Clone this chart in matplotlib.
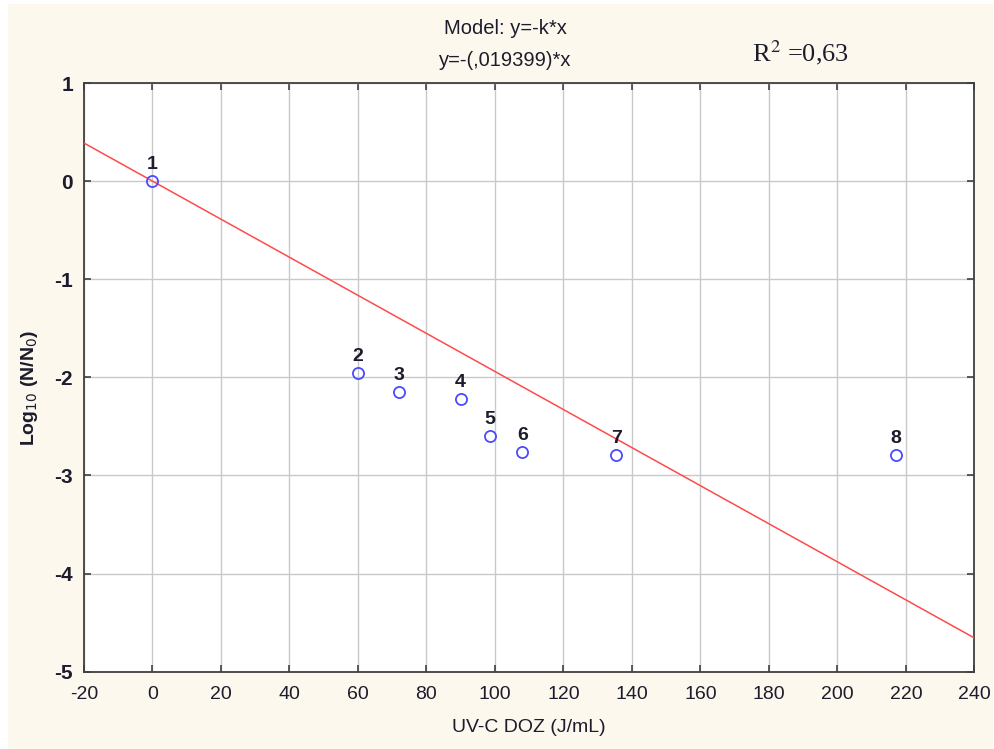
import matplotlib
matplotlib.use("Agg")
import matplotlib.pyplot as plt
from matplotlib.patches import Rectangle
import numpy as np

plt.rcParams["axes.unicode_minus"] = False

# UV-C dose vs. log reduction
doses = [0, 60, 72, 90, 98.5, 108, 135.5, 217]
log_reduction = [0.0, -1.96, -2.15, -2.22, -2.60, -2.76, -2.79, -2.79]
point_labels = ["1", "2", "3", "4", "5", "6", "7", "8"]
k_fit = 0.019399
x_ticks = [-20, 0, 20, 40, 60, 80, 100, 120, 140, 160, 180, 200, 220, 240]
y_ticks = [-5, -4, -3, -2, -1, 0, 1]

text_col = "#1c1c2c"
fig = plt.figure(figsize=(9.94, 7.49), dpi=100)
fig.patch.set_facecolor("white")
fig.add_artist(Rectangle((8 / 994, 0), 985 / 994, 745 / 749, transform=fig.transFigure,
                         facecolor="#fdf8ee", edgecolor="none", zorder=-10))

ax = fig.add_axes([84 / 994, 1 - 671.7 / 749, (974.3 - 84) / 994, (671.7 - 83) / 749])
ax.set_facecolor("white")
ax.set_xlim(-20, 240)
ax.set_ylim(-5, 1)
ax.set_xticks(x_ticks)
ax.set_yticks(y_ticks)
ax.grid(True, color="#c9c9c9", lw=1.0)
ax.set_axisbelow(True)
for s in ax.spines.values():
    s.set_color("#404040")
    s.set_linewidth(1.3)
ax.tick_params(direction="in", length=5, width=1.2, color="#404040",
               top=True, right=True, labelcolor=text_col)
ax.tick_params(axis="x", pad=10)
ax.tick_params(axis="y", pad=8)
for lab in ax.get_xticklabels():
    lab.set_family("Liberation Sans")
    lab.set_fontsize(14)
for lab in ax.get_yticklabels():
    lab.set_family("Liberation Sans")
    lab.set_fontsize(15)
    lab.set_fontweight("bold")

xs = np.array([-20, 240])
ax.plot(xs, -k_fit * xs, color="#ff4a4a", lw=1.1, zorder=3)
ax.plot(doses, log_reduction, "o", mfc="none", mec="#4a4aff", mew=1.3, ms=8, zorder=4)
for x, y, t in zip(doses, log_reduction, point_labels):
    ax.annotate(t, (x, y), xytext=(0, 6), textcoords="offset points", ha="center",
                va="bottom", fontsize=14, fontweight="bold", color=text_col,
                family="Liberation Sans")

ax.set_xlabel("UV-C DOZ (J/mL)", family="Liberation Sans", fontsize=14, color=text_col)
ax.xaxis.set_label_coords(0.5, -(728 - 671.7) / (671.7 - 83), transform=ax.transAxes)
ax.set_ylabel(r"Log$_{10}$ (N/N$_0$)", family="Liberation Sans", fontsize=14,
              fontweight="bold", color=text_col, va="center")
ax.yaxis.label.set_math_fontfamily("dejavusans")
ax.yaxis.set_label_coords(-(84 - 30) / (974.3 - 84), 0.5 - (388 - 377) / (671.7 - 83))
ax.xaxis.label.set_va("center")

fig.text(505 / 994, 1 - 28 / 749, "Model: y=-k*x", ha="center", va="center",
         fontsize=14.5, family="Liberation Sans", color=text_col)
fig.text(505 / 994, 1 - 60 / 749, "y=-(,019399)*x", ha="center", va="center",
         fontsize=14.5, family="Liberation Sans", color=text_col)
fig.text(752 / 994, 1 - 53 / 749, r"R$^{2}$ =0,63", ha="left", va="center",
         fontsize=19, family="Liberation Serif", color=text_col,
         math_fontfamily="stix")

fig.savefig("out.png", dpi=100, facecolor=fig.get_facecolor())
